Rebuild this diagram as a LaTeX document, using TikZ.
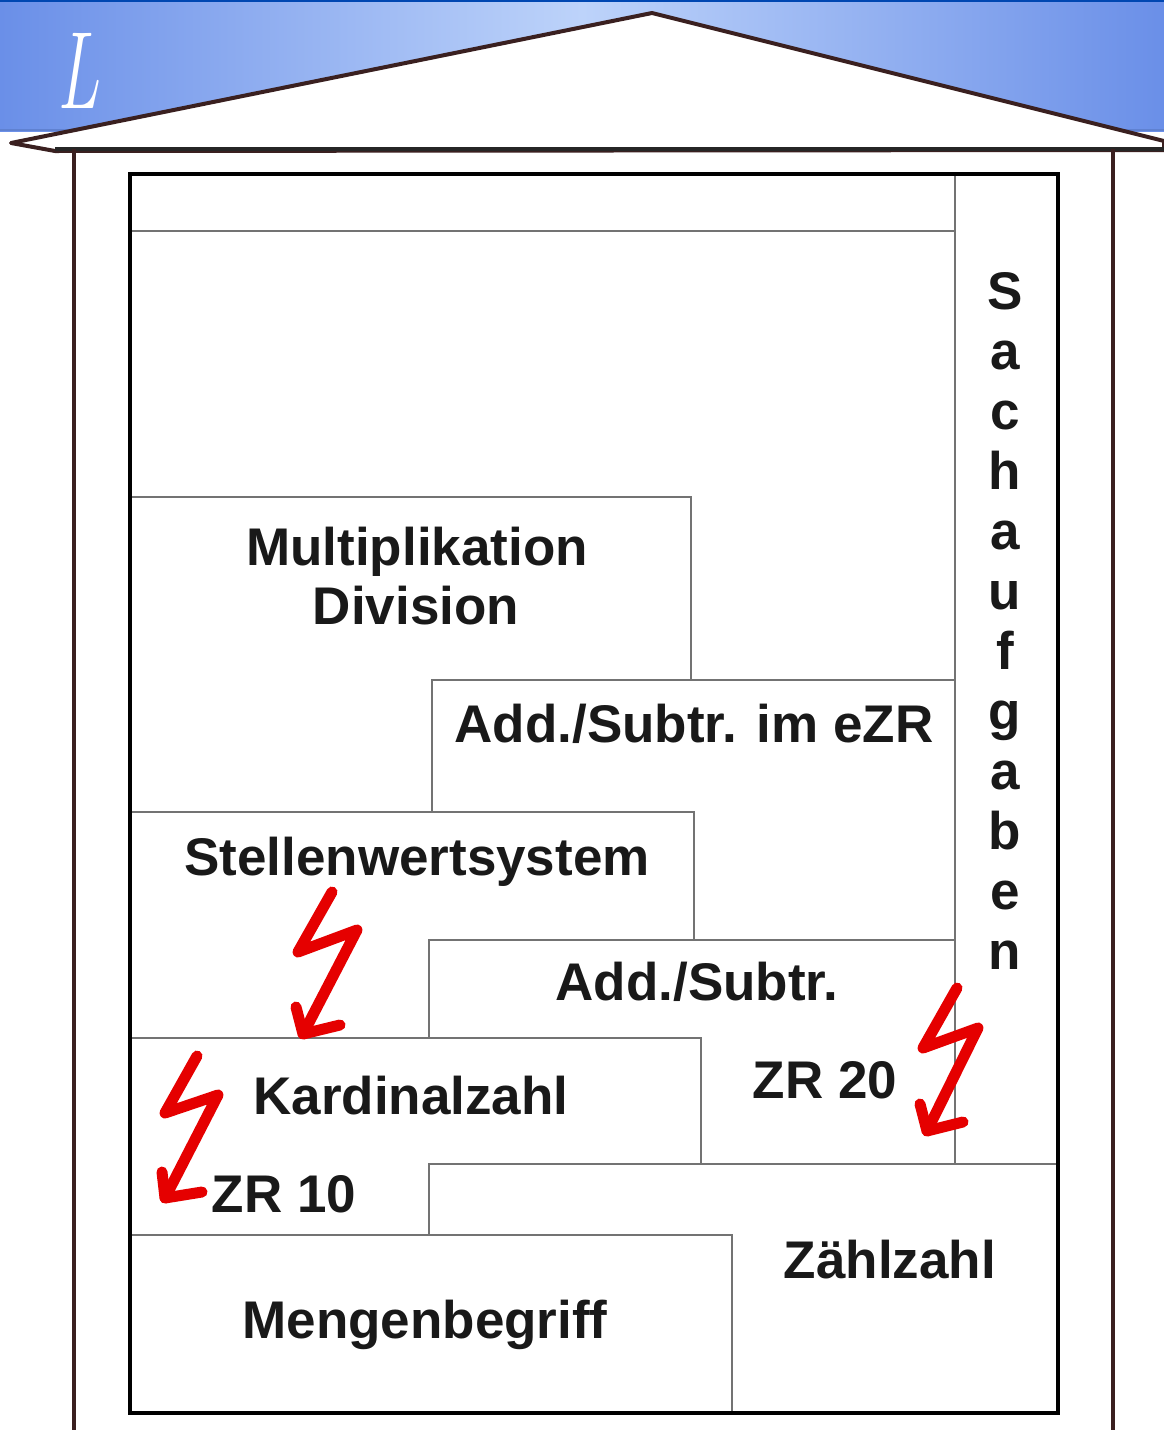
\documentclass[tikz,border=0pt]{standalone}
\usepackage{fontspec}
\newfontfamily\labfont{Liberation Sans}
\begin{document}
\begin{tikzpicture}[x=1pt,y=-1pt,
  lab/.style={font=\labfont\bfseries\fontsize{53}{60}\selectfont, inner sep=0pt, anchor=base, text=black!90},
  thin/.style={draw=black!55, line width=2.2pt},
  bolt/.style={draw=red!90!black, line width=11pt, line cap=round, line join=round}]
\definecolor{bannerA}{HTML}{6A8FE8}
\definecolor{bannerB}{HTML}{BDD3FA}
\definecolor{roofc}{HTML}{3A2020}
\useasboundingbox (0,0) rectangle (1164,1430);
\fill[white] (0,0) rectangle (1164,1430);
% banner
\shade[left color=bannerA, right color=bannerA, middle color=bannerB] (0,0) rectangle (1164,131);
\draw[draw=blue!60!cyan!70!black, line width=2pt] (0,1) -- (1164,1);
\draw[draw=bannerA!90!black, line width=2pt] (0,130) -- (1164,130);
\node[font=\fontsize{110}{112}\selectfont\itshape, text=white, inner sep=0pt, anchor=base, xscale=0.62] (title) at (78,108) {L};
% roof
\filldraw[fill=white, draw=roofc, line width=4pt, line join=round] (11,143) -- (652,13) -- (1164,141) -- (1164,150) -- (55,151) -- cycle;
\draw[draw=black!85, line width=4.5pt] (55,149) -- (1164,149);
% walls
\draw[draw=roofc, line width=3.5pt] (74,149) -- (74,1430);
\draw[draw=roofc, line width=3.5pt] (1113,149) -- (1113,1430);
% inner lines
\draw[thin] (130,231) -- (955,231);
\draw[thin] (955,175) -- (955,1164);
\draw[thin] (130,497) -- (691,497) -- (691,680);
\draw[thin] (432,812) -- (432,680) -- (955,680);
\draw[thin] (130,812) -- (694,812) -- (694,940);
\draw[thin] (429,1038) -- (429,940) -- (955,940);
\draw[thin] (130,1038) -- (701,1038) -- (701,1164);
\draw[thin] (429,1235) -- (429,1164) -- (1058,1164);
\draw[thin] (130,1235) -- (732,1235) -- (732,1413);
% frame
\draw[draw=black, line width=4.5pt] (130,174) rectangle (1058,1413);
% labels
\node[lab] (mul) at (417,565) {Multiplikation};
\node[lab] (div) at (416,624) {Division};
\node[lab] (ezr) at (694,742) {Add./Subtr. im eZR};
\node[lab] (stw) at (417,875) {Stellenwertsystem};
\node[lab] (add) at (697,1000) {Add./Subtr.};
\node[lab] (zr20) at (825,1098) {ZR 20};
\node[lab] (kard) at (411,1114) {Kardinalzahl};
\node[lab] (zr10) at (284,1212) {ZR 10};
\node[lab] (zaehl) at (890,1278) {Zählzahl};
\node[lab] (menge) at (425,1338) {Mengenbegriff};
\foreach \ch [count=\k from 0] in {S,a,c,h,a,u,f,g,a,b,e,n}
  \node[lab] (sach\k) at (1005,309+60*\k) {\ch};
% lightning bolts
\draw[bolt] (332,892) -- (298,952) -- (357,930) -- (303,1034);
\draw[bolt] (296,1007) -- (303,1034) -- (340,1025);
\draw[bolt] (197,1056) -- (165,1113) -- (218,1095) -- (165,1198);
\draw[bolt] (162,1172) -- (165,1198) -- (202,1192);
\draw[bolt] (957,988) -- (923,1048) -- (978,1028) -- (927,1131);
\draw[bolt] (920,1104) -- (927,1131) -- (963,1122);
\end{tikzpicture}
\end{document}
